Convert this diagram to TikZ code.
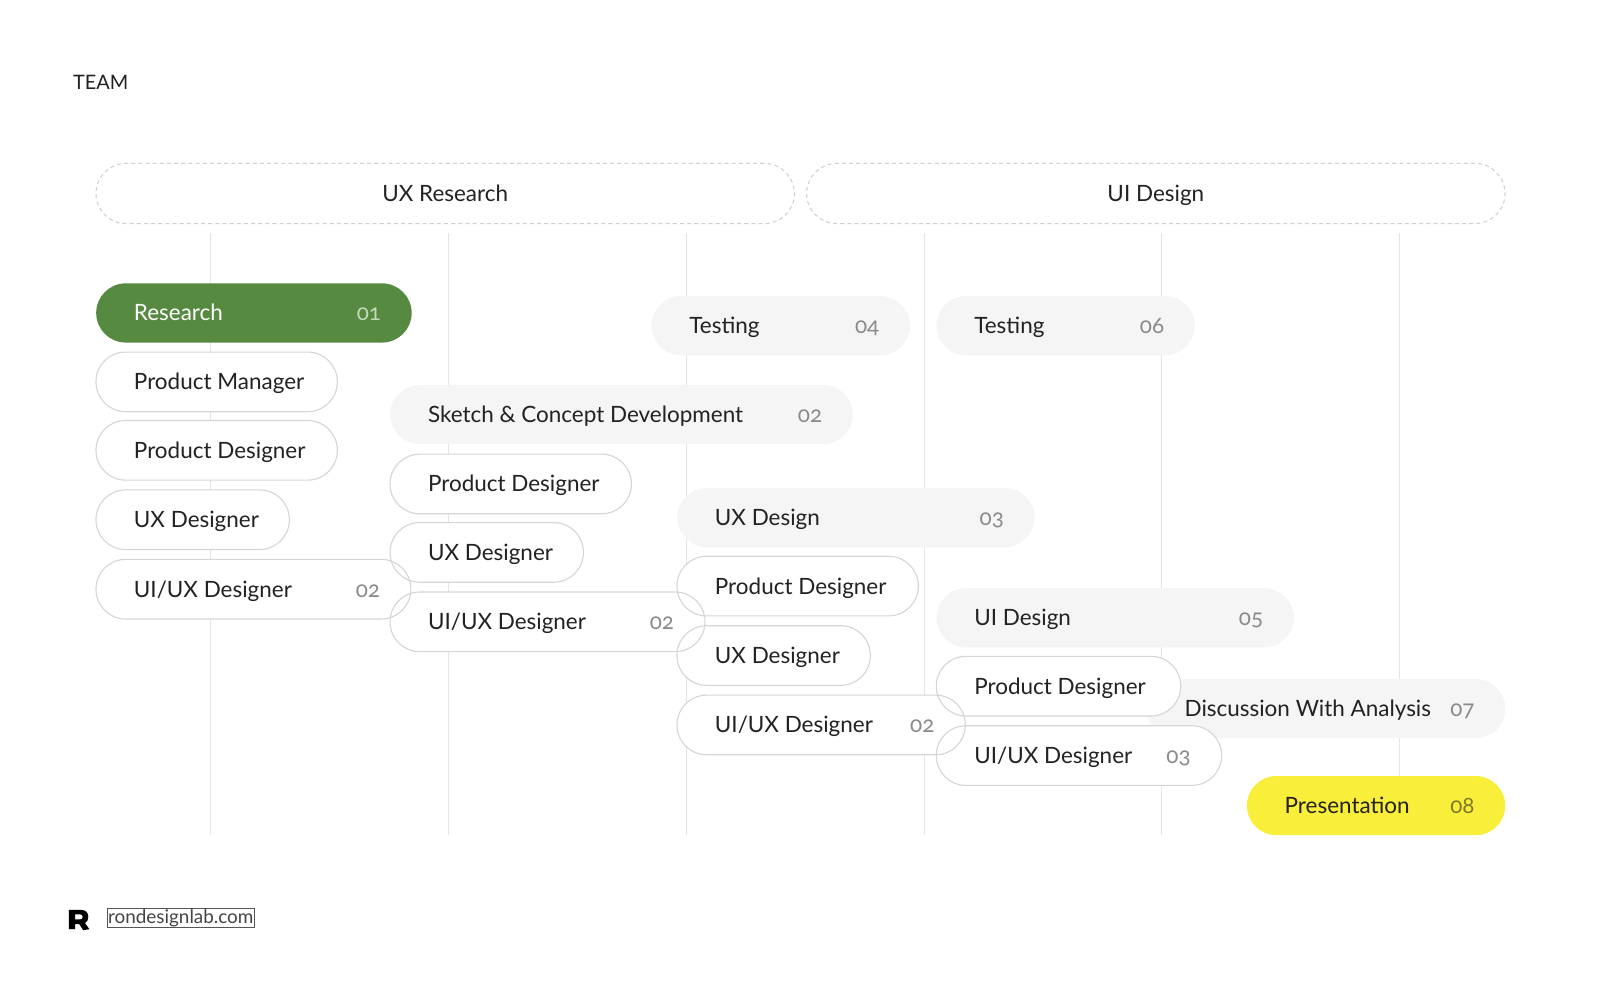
\documentclass[tikz,border=0pt]{standalone}
\usepackage{fontspec}
\setmainfont{Lato}[Numbers=OldStyle]
\definecolor{ink}{HTML}{222222}
\definecolor{numgray}{HTML}{8A8A8A}
\definecolor{leaf}{HTML}{558A40}
\definecolor{leafnum}{HTML}{C6D9BC}
\definecolor{sun}{HTML}{F9EE3A}
\definecolor{sunnum}{HTML}{7E7A2A}
\definecolor{pillgrey}{HTML}{F5F5F5}
\definecolor{edge}{HTML}{D6D6D6}
\definecolor{guidegray}{HTML}{E4E4E4}
\definecolor{dashgray}{HTML}{CFCFCF}
\definecolor{linkgray}{HTML}{555555}
\definecolor{linktext}{HTML}{444444}
\colorlet{numc}{numgray}
\newcommand{\pilltxt}[3]{\makebox[#1pt][l]{\hspace*{3.5pt}#2\hfill{\color{numc}#3}\hspace*{-3.5pt}}}
\begin{document}
\begin{tikzpicture}[x=1pt,y=-1pt,
  pillbase/.style={rectangle, rounded corners=29pt, minimum height=58pt, inner xsep=33.5pt, inner ysep=0pt, anchor=west, text height=15.5pt, text depth=0pt, font=\fontsize{22}{26}\selectfont, text=ink},
  whitepill/.style={pillbase, fill=white},
  greypill/.style={pillbase, fill=pillgrey},
  greenpill/.style={pillbase, fill=leaf, text=white, execute at begin node={\colorlet{numc}{leafnum}}},
  yellowpill/.style={pillbase, fill=sun, execute at begin node={\colorlet{numc}{sunnum}}},
  pillborder/.style={draw=edge, line width=1.1pt, rounded corners=29pt},
  phase/.style={rectangle, rounded corners=29.5pt, draw=dashgray, dash pattern=on 4pt off 3pt, line width=1pt, minimum height=59pt, minimum width=684pt, inner sep=0pt, text height=15.5pt, text depth=0pt, font=\fontsize{22}{26}\selectfont, text=ink},
  guide/.style={draw=guidegray, line width=1pt}
]
\useasboundingbox (0,0) rectangle (1568,980.4);

\node[anchor=west, font=\fontsize{19.5}{22}\selectfont, text=ink] (team) at (68,81) {TEAM};

\node[phase] (uxr) at (436,189.5) {UX Research};
\node[phase] (uid) at (1132,189.5) {UI Design};

\foreach \x in {206,439,672,905,1138,1371} \draw[guide] (\x,228) -- (\x,818);

% filled phase pills
\node[greenpill] (research) at (94,306.5) {\pilltxt{242}{Research}{01}};
\node[greypill] (test04) at (638,319) {\pilltxt{186}{Testing}{04}};
\node[greypill] (test06) at (917,319) {\pilltxt{186}{Testing}{06}};
\node[greypill] (sketch) at (382,406) {\pilltxt{386}{Sketch \& Concept Development}{02}};
\node[greypill] (uxdesign) at (663,507) {\pilltxt{283}{UX Design}{03}};
\node[greypill] (uidesign) at (917,605) {\pilltxt{283}{UI Design}{05}};
\node[greypill] (disc) at (1123,694) {\pilltxt{284}{Discussion With Analysis}{07}};
\node[yellowpill] (pres) at (1221,789) {\pilltxt{186}{Presentation}{08}};

% role pills
\node[whitepill] (pm) at (94,374) {\pilltxt{169}{Product Manager}{}};
\node[whitepill] (pd1) at (94,441) {\pilltxt{169}{Product Designer}{}};
\node[whitepill] (uxd1) at (94,509) {\pilltxt{122}{UX Designer}{}};
\node[whitepill] (uiux1) at (94,577) {\pilltxt{241}{UI/UX Designer}{02}};
\node[whitepill] (pd2) at (382,474) {\pilltxt{169}{Product Designer}{}};
\node[whitepill] (uxd2) at (382,541) {\pilltxt{122}{UX Designer}{}};
\node[whitepill] (uiux2) at (382,609) {\pilltxt{241}{UI/UX Designer}{02}};
\node[whitepill] (pd3) at (663,574) {\pilltxt{169}{Product Designer}{}};
\node[whitepill] (uxd3) at (663,642) {\pilltxt{122}{UX Designer}{}};
\node[whitepill] (uiux3) at (663,710) {\pilltxt{215}{UI/UX Designer}{02}};
\node[whitepill] (pd4) at (917,672) {\pilltxt{172}{Product Designer}{}};
\node[whitepill] (uiux4) at (917,740) {\pilltxt{212}{UI/UX Designer}{03}};

\foreach \n in {pm,pd1,uxd1,uiux1,pd2,uxd2,uiux2,pd3,uxd3,uiux3,pd4,uiux4}
  \draw[pillborder] (\n.south west) rectangle (\n.north east);

% footer logo
\fill[black, even odd rule]
  (67.5,891) -- (79,891) .. controls (84,891) and (86.5,894) .. (86.5,898)
  .. controls (86.5,901) and (85.2,903) .. (83.2,904) -- (87.5,910) -- (81.5,911)
  -- (77.5,905) -- (73.5,905) -- (73.5,910) -- (67.5,910) -- cycle
  (73.5,895.5) -- (78.5,895.5) .. controls (80.3,895.5) and (81,896.7) .. (81,898)
  .. controls (81,899.3) and (80.3,900.5) .. (78.5,900.5) -- (73.5,900.5) -- cycle;
\node[anchor=west, draw=linkgray, line width=0.8pt, inner xsep=0.5pt, inner ysep=1pt, font=\fontsize{18.5}{21}\selectfont, text=linktext] (site) at (105,899) {rondesignlab.com};
\end{tikzpicture}
\end{document}
